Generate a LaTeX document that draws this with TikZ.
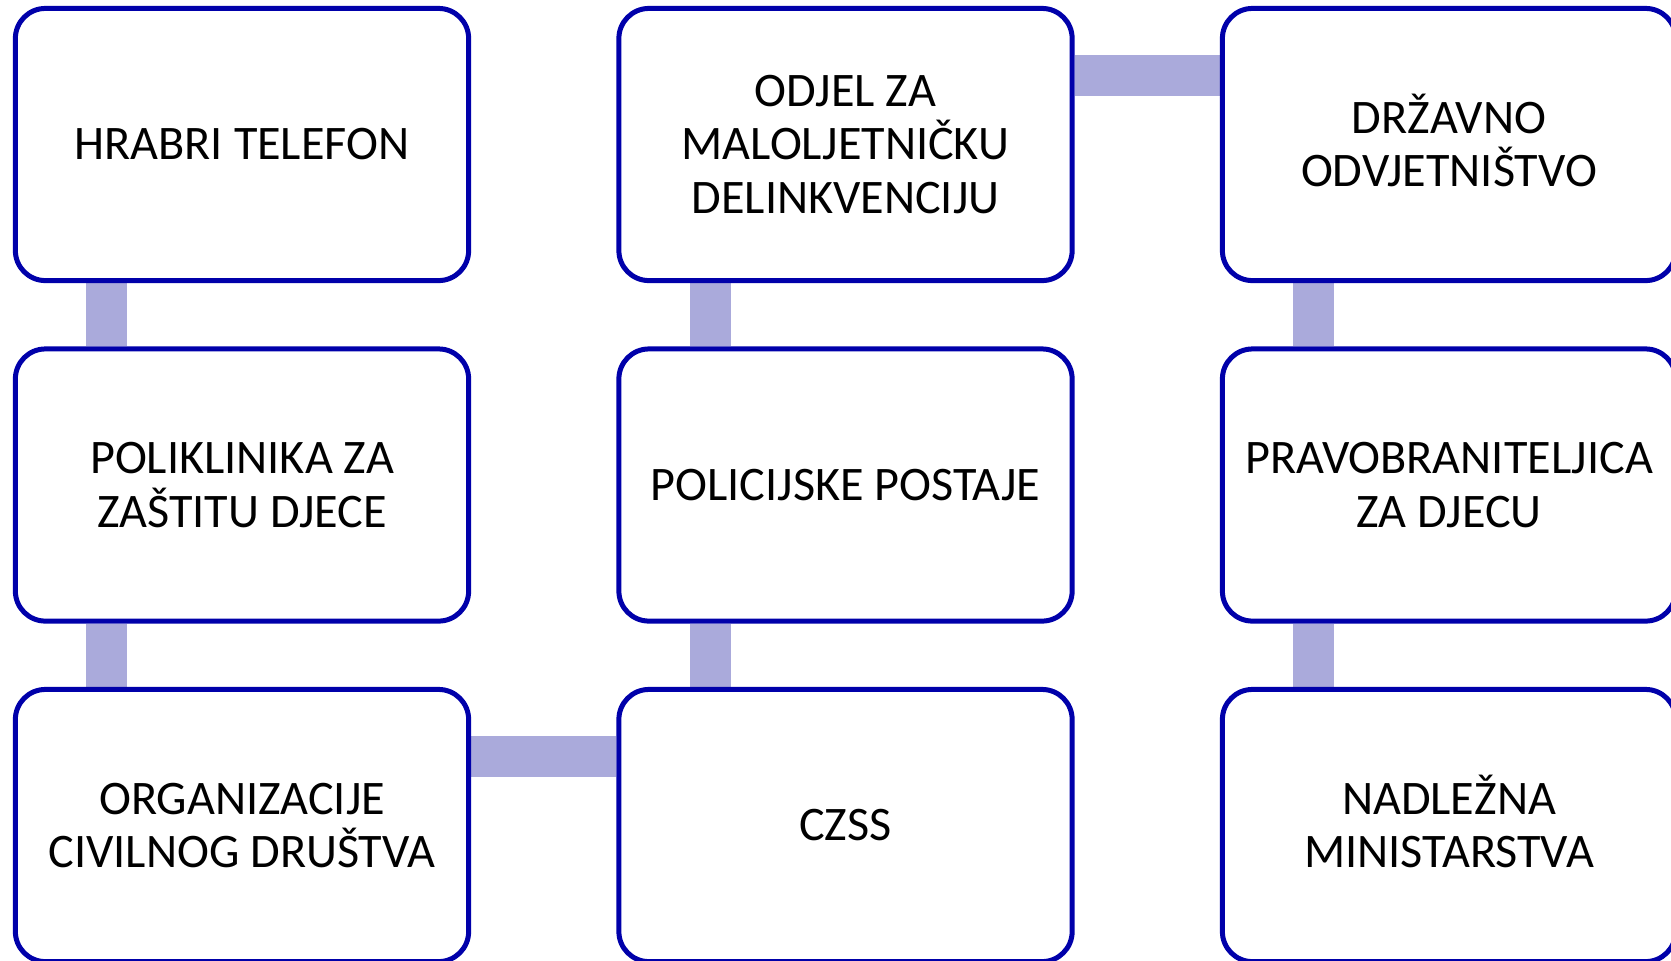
\documentclass[tikz,border=0pt]{standalone}
\usepackage{fontspec}
\setmainfont{Carlito}
\usetikzlibrary{backgrounds}
\definecolor{boxblue}{RGB}{0,0,170}
\definecolor{linkblue}{RGB}{170,170,219}
\tikzset{
  unit/.style={rectangle, rounded corners=0.3cm, draw=boxblue, line width=0.05cm, fill=white,
    minimum width=4.53cm, minimum height=2.72cm, align=center, font=\fontsize{13.7}{15.1}\selectfont},
  link/.style={draw=linkblue, line width=0.41cm}
}
\begin{document}
\begin{tikzpicture}[x=0.01cm, y=-0.01cm]
      \useasboundingbox (0,0) rectangle (1671,960);
      \node[unit] (1) at (242,144.5) {HRABRI TELEFON};
      \node[unit] (2) at (845.5,144.5) {ODJEL ZA\\MALOLJETNIČKU\\DELINKVENCIJU};
      \node[unit] (3) at (1449,144.5) {DR\smash{Ž}AVNO\\ODVJETNIŠTVO};
      \node[unit] (4) at (242,485) {POLIKLINIKA ZA\\ZAŠTITU DJECE};
      \node[unit] (5) at (845.5,485) {POLICIJSKE POSTAJE};
      \node[unit] (6) at (1449,485) {PRAVOBRANITELJICA\\ZA DJECU};
      \node[unit] (7) at (242,825.5) {ORGANIZACIJE\\CIVILNOG DRUŠTVA};
      \node[unit] (8) at (845.5,825.5) {CZSS};
      \node[unit] (9) at (1449,825.5) {NADLE\smash{Ž}NA\\MINISTARSTVA};
      \begin{scope}[on background layer]
        \foreach \source/\dest in {1/4, 4/7, 2/5, 5/8, 3/6, 6/9}
          \path[link] ([xshift=-1.35cm]\source.south) -- ([xshift=-1.35cm]\dest.north);
        \foreach \source/\dest in {7/8, 2/3}
          \path[link] ([yshift=0.69cm]\source.east) -- ([yshift=0.69cm]\dest.west);
      \end{scope}
    \end{tikzpicture}
\end{document}
